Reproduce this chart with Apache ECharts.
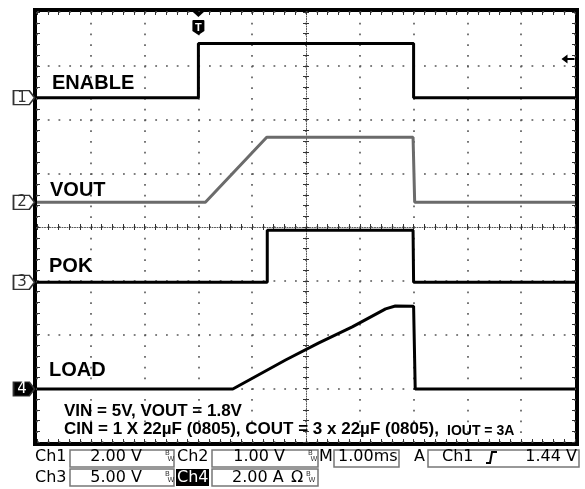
<!DOCTYPE html>
<html><head><meta charset="utf-8">
<script src="https://cdn.jsdelivr.net/npm/echarts@6/dist/echarts.min.js"></script>
<style>html,body{margin:0;padding:0;background:#fff}#c{width:585px;height:489px}</style>
</head><body><div id="c"></div>
<script>
// ---------- data (time in ms, trigger at 0 ms) ----------
const channelNames = ['ENABLE', 'VOUT', 'POK', 'LOAD'];
const channelScale = [2, 1, 5, 2];                       // units per division
const channelScaleText = ['2.00 V', '1.00 V', '5.00 V', '2.00 A'];
const channelGround = [2.406, 0.46, -1.029, -3.014];     // ground marker, divisions from centre
const enableT = [-3, 0, 0, 4.0, 4.0, 7];
const enableV = [0, 0, 2.02, 2.02, 0, 0];
const voutT = [-3, 0.13, 1.27, 3.99, 4.02, 7];
const voutV = [0, 0, 1.21, 1.21, 0, 0];
const pokT = [-3, 1.28, 1.28, 3.99, 4.0, 7];
const pokV = [0, 0, 4.84, 4.84, 0, 0];
const loadT = [-3, 0.64, 1.62, 2.23, 2.86, 3.48, 3.66, 4.0, 4.03, 7];
const loadA = [0, 0, 1.08, 1.71, 2.31, 2.98, 3.09, 3.08, 0, 0];
const timeRange = [-3, 7];
const timePerDivText = '1.00ms';
const triggerLevel = 1.44;
const triggerText = '1.44 V';
const noteLine1 = 'VIN = 5V, VOUT = 1.8V';
const noteLine2 = 'CIN = 1 X 22µF (0805), COUT = 3 x 22µF (0805),';
const noteLine2b = 'IOUT = 3A';

// ---------- layout ----------
const L = 37, T = 12, W = 538, H = 430;
const chart = echarts.init(document.getElementById('c'), null, {renderer: 'canvas'});

function chRange(i) {
  const g = channelGround[i], s = channelScale[i];
  return [(-4 - g) * s, (4 - g) * s];
}
function chAxis(i) {
  const r = chRange(i);
  return {gridIndex: 0, type: 'value', min: r[0], max: r[1], show: false};
}
const hiddenAxis = g => ({gridIndex: g, type: 'value', min: 0, max: 1, show: false});
const tickLine = {color: '#333', width: 1};
const dotGrid = {show: true, lineStyle: {color: '#555', width: 1.6, type: [1.8, 8.95]}};
const centreLine = {show: true, onZero: false, lineStyle: {color: '#555', width: 1, type: [1, 1.5]}};
function tickAxis(extra) {
  return Object.assign({
    type: 'value', axisLabel: {show: false},
    axisLine: {show: false, onZero: false},
    axisTick: {show: true, inside: true, length: 3, lineStyle: tickLine},
    minorTick: {show: true, splitNumber: 5, length: 3, lineStyle: tickLine},
    splitLine: {show: false}, minorSplitLine: {show: false}
  }, extra);
}
const xT = {min: timeRange[0], max: timeRange[1], interval: 1};
const yD = {min: -4, max: 4, interval: 1};

const MARK = 'path://M0,0 L15,0 L20,6.5 L15,13 L0,13 Z';
const TPATH = 'path://M0.5,0 L11.5,0 L6,5 Z M1,8 L11,8 Q12,8 12,9 L12,19 L6,23 L0,19 L0,9 Q0,8 1,8 Z';
const ARROW = 'path://M0,4.5 L6,0 L6,3.5 L13,3.5 L13,5.5 L6,5.5 L6,9 Z';

function chMarker(i) {
  const dark = i === 3;
  return {
    name: String(i + 1), coord: [timeRange[0], 0], symbol: MARK, symbolSize: [21, 14], symbolOffset: [-13, 0],
    itemStyle: {color: dark ? '#000' : '#fff', borderColor: '#333', borderWidth: 1.5},
    label: {show: true, position: 'inside', formatter: '{b}', color: dark ? '#fff' : '#333', fontSize: 15,
      fontFamily: 'DejaVu Sans', offset: [-2, 0]}
  };
}
function trace(i, t, v, color, extra) {
  return {
    type: 'line', name: channelNames[i], xAxisIndex: 0, yAxisIndex: 2 + i,
    data: t.map((x, k) => [x, v[k]]), symbol: 'none', showSymbol: false, clip: false, silent: true,
    lineStyle: {color: color, width: 3}, z: 5,
    markPoint: {silent: true, data: [chMarker(i)].concat(extra || [])}
  };
}

const ch1Max = chRange(0)[1];
const series = [
  trace(0, enableT, enableV, '#000', [
    {name: 'T', coord: [0, ch1Max], symbol: TPATH, symbolSize: [12, 23], symbolOffset: [0, 11.5],
      itemStyle: {color: '#000'},
      label: {show: true, position: 'inside', formatter: '{b}', color: '#fff', fontWeight: 'bold', fontSize: 11,
        fontFamily: 'Liberation Sans', offset: [0, 4]}},
    {name: '', coord: [timeRange[1], triggerLevel], symbol: ARROW, symbolSize: [13, 9], symbolOffset: [-7, 0],
      itemStyle: {color: '#000'}, label: {show: false}}
  ]),
  trace(1, voutT, voutV, '#6b6b6b'),
  trace(2, pokT, pokV, '#000'),
  trace(3, loadT, loadA, '#000')
];

// ---------- text ----------
const LF = '"Liberation Sans", Arial, sans-serif';
const SF = '"DejaVu Sans", sans-serif';
function txt(s, x, y, font, opts) {
  return Object.assign({type: 'text', x: x, y: y, z: 20, silent: true,
    style: Object.assign({text: s, font: font, fill: '#000', align: 'left', verticalAlign: 'middle'}, opts || {})});
}
function box(x, y, w, h) {
  return {type: 'rect', z: 19, silent: true, shape: {x: x, y: y, width: w, height: h},
    style: {fill: '#fff', stroke: '#777', lineWidth: 1.5}};
}
function bw(x, yc) {
  return [txt('B', x, yc - 3.5, '7px ' + SF, {fill: '#333'}), txt('W', x + 2.5, yc + 2.5, '7px ' + SF, {fill: '#333'})];
}
const S16 = '16px ' + SF;
const r1 = 456.5, r2 = 477.5;
const graphic = [
  txt(channelNames[0], 52, 83, 'bold 20px ' + LF),
  txt(channelNames[1], 50, 190, 'bold 20px ' + LF),
  txt(channelNames[2], 49, 266, 'bold 20px ' + LF),
  txt(channelNames[3], 49, 370, 'bold 20px ' + LF),
  txt(noteLine1, 64, 411, 'bold 17px ' + LF),
  txt(noteLine2, 64, 429.5, 'bold 17px ' + LF),
  txt(noteLine2b, 447, 430.8, 'bold 14px ' + LF),
  // status row 1
  txt('Ch1', 35, r1, S16),
  box(70, 450, 104, 17), txt(channelScaleText[0], 142, r1, S16, {align: 'right'}),
  ...bw(165, r1),
  txt('Ch2', 177, r1, S16),
  box(212, 450, 106, 17), txt(channelScaleText[1], 285, r1, S16, {align: 'right'}),
  ...bw(308, r1),
  txt('M', 319, r1, S16),
  box(334, 450, 65, 17), txt(timePerDivText, 338, r1, S16),
  txt('A', 414, r1, S16),
  box(428, 450, 151, 17), txt('Ch1', 442, r1, S16),
  {type: 'polyline', z: 20, silent: true, shape: {points: [[486, 463], [490, 463], [492, 452], [497, 452]]},
    style: {stroke: '#000', lineWidth: 2, fill: null}},
  txt(triggerText, 577, r1, S16, {align: 'right'}),
  // status row 2
  txt('Ch3', 35, r2, S16),
  box(70, 469, 104, 17), txt(channelScaleText[2], 142, r2, S16, {align: 'right'}),
  ...bw(165, r2),
  {type: 'rect', z: 19, silent: true, shape: {x: 176, y: 469, width: 33, height: 17}, style: {fill: '#000'}},
  txt('Ch4', 177, r2, S16, {fill: '#fff'}),
  box(212, 469, 106, 17), txt(channelScaleText[3], 232, r2, S16), txt('Ω', 291, r2, S16),
  ...bw(306, r2)
];

const option = {
  animation: false,
  backgroundColor: '#fff',
  tooltip: {show: false},
  grid: [
    {left: L, top: T, width: W, height: H, outerBoundsMode: 'none'},
    {left: L, top: T, width: W, height: H / 2, outerBoundsMode: 'none'},
    {left: L, top: T + H / 2, width: W, height: H / 2, outerBoundsMode: 'none'},
    {left: L, top: T, width: W / 2, height: H, outerBoundsMode: 'none'},
    {left: L + W / 2, top: T, width: W / 2, height: H, outerBoundsMode: 'none'},
    {left: L - 2, top: T - 2, width: W + 4, height: H + 4, show: true, borderColor: '#000', borderWidth: 4,
      backgroundColor: 'transparent', outerBoundsMode: 'none'}
  ],
  xAxis: [
    tickAxis(Object.assign({gridIndex: 0, position: 'bottom', splitLine: dotGrid}, xT)),
    tickAxis(Object.assign({gridIndex: 0, position: 'top'}, xT)),
    tickAxis(Object.assign({gridIndex: 1, position: 'bottom', axisLine: centreLine}, xT)),
    tickAxis(Object.assign({gridIndex: 2, position: 'top'}, xT)),
    hiddenAxis(3), hiddenAxis(4), hiddenAxis(5)
  ],
  yAxis: [
    tickAxis(Object.assign({gridIndex: 0, position: 'left', splitLine: dotGrid}, yD)),
    tickAxis(Object.assign({gridIndex: 0, position: 'right'}, yD)),
    chAxis(0), chAxis(1), chAxis(2), chAxis(3),
    hiddenAxis(1), hiddenAxis(2),
    tickAxis(Object.assign({gridIndex: 3, position: 'right', axisLine: centreLine}, yD)),
    tickAxis(Object.assign({gridIndex: 4, position: 'left'}, yD)),
    hiddenAxis(5)
  ],
  series: series,
  graphic: graphic
};
chart.setOption(option);
</script>
</body></html>
